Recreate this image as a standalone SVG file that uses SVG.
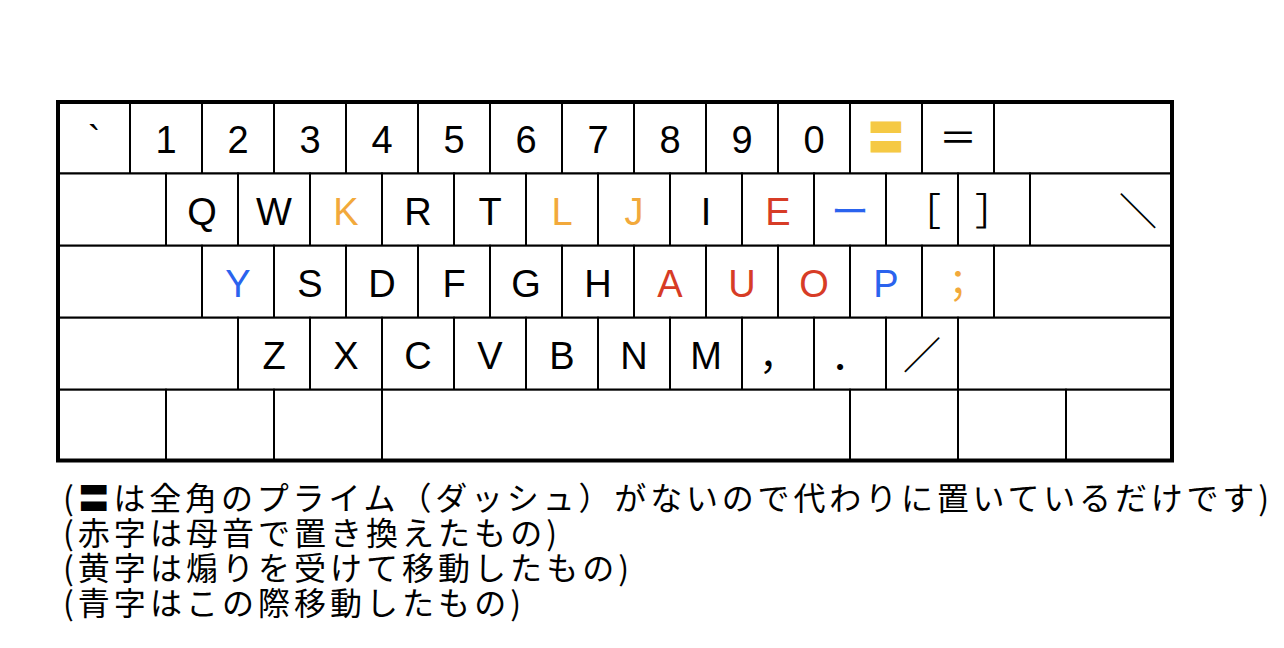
<svg xmlns="http://www.w3.org/2000/svg" width="1284" height="648" viewBox="0 0 1284 648">
<style>
.key{fill:#fff;stroke:#000;stroke-width:2}
.frame{fill:none;stroke:#000;stroke-width:4}
.lbl{font-family:"Liberation Sans","Noto Sans CJK JP",sans-serif;font-size:38px;text-anchor:middle;fill:#000}
.cjk{font-family:"Noto Sans CJK JP",sans-serif;font-size:38px;text-anchor:middle;fill:#000}
.o{fill:#F2A93B}
.r{fill:#D73C26}
.b{fill:#2A63EE}
.y{fill:#F5C944}
.note{font-family:"Noto Sans CJK JP",sans-serif;font-size:32px;fill:#000}
</style>
<rect width="1284" height="648" fill="#fff"/>
<g id="row1">
<g id="k-grave"><rect class="key" x="58" y="102" width="72" height="71.5"/><text class="lbl" x="94" y="153">`</text></g>
<g id="k-1"><rect class="key" x="130" y="102" width="72" height="71.5"/><text class="lbl" x="166" y="153">1</text></g>
<g id="k-2"><rect class="key" x="202" y="102" width="72" height="71.5"/><text class="lbl" x="238" y="153">2</text></g>
<g id="k-3"><rect class="key" x="274" y="102" width="72" height="71.5"/><text class="lbl" x="310" y="153">3</text></g>
<g id="k-4"><rect class="key" x="346" y="102" width="72" height="71.5"/><text class="lbl" x="382" y="153">4</text></g>
<g id="k-5"><rect class="key" x="418" y="102" width="72" height="71.5"/><text class="lbl" x="454" y="153">5</text></g>
<g id="k-6"><rect class="key" x="490" y="102" width="72" height="71.5"/><text class="lbl" x="526" y="153">6</text></g>
<g id="k-7"><rect class="key" x="562" y="102" width="72" height="71.5"/><text class="lbl" x="598" y="153">7</text></g>
<g id="k-8"><rect class="key" x="634" y="102" width="72" height="71.5"/><text class="lbl" x="670" y="153">8</text></g>
<g id="k-9"><rect class="key" x="706" y="102" width="72" height="71.5"/><text class="lbl" x="742" y="153">9</text></g>
<g id="k-0"><rect class="key" x="778" y="102" width="72" height="71.5"/><text class="lbl" x="814" y="153">0</text></g>
<g id="k-geta"><rect class="key" x="850" y="102" width="72" height="71.5"/><text class="cjk y" x="886" y="151" font-size="34">〓</text></g>
<g id="k-equal"><rect class="key" x="922" y="102" width="72" height="71.5"/><text class="cjk" x="958" y="151">＝</text></g>
<g id="k-bs"><rect class="key" x="994" y="102" width="178" height="71.5"/></g>
</g>
<g id="row2">
<g id="k-tab"><rect class="key" x="58" y="173.5" width="108" height="72.2"/></g>
<g id="k-q"><rect class="key" x="166" y="173.5" width="72" height="72.2"/><text class="lbl" x="202" y="224.5">Q</text></g>
<g id="k-w"><rect class="key" x="238" y="173.5" width="72" height="72.2"/><text class="lbl" x="274" y="224.5">W</text></g>
<g id="k-k"><rect class="key" x="310" y="173.5" width="72" height="72.2"/><text class="lbl o" x="346" y="224.5">K</text></g>
<g id="k-r"><rect class="key" x="382" y="173.5" width="72" height="72.2"/><text class="lbl" x="418" y="224.5">R</text></g>
<g id="k-t"><rect class="key" x="454" y="173.5" width="72" height="72.2"/><text class="lbl" x="490" y="224.5">T</text></g>
<g id="k-l"><rect class="key" x="526" y="173.5" width="72" height="72.2"/><text class="lbl o" x="562" y="224.5">L</text></g>
<g id="k-j"><rect class="key" x="598" y="173.5" width="72" height="72.2"/><text class="lbl o" x="634" y="224.5">J</text></g>
<g id="k-i"><rect class="key" x="670" y="173.5" width="72" height="72.2"/><text class="lbl" x="706" y="224.5">I</text></g>
<g id="k-e"><rect class="key" x="742" y="173.5" width="72" height="72.2"/><text class="lbl r" x="778" y="224.5">E</text></g>
<g id="k-dash"><rect class="key" x="814" y="173.5" width="72" height="72.2"/><text class="cjk b" x="850" y="224.5">ー</text></g>
<g id="k-lbr"><rect class="key" x="886" y="173.5" width="72" height="72.2"/><text class="cjk" x="922" y="224.5">［</text></g>
<g id="k-rbr"><rect class="key" x="958" y="173.5" width="72" height="72.2"/><text class="cjk" x="994" y="224.5">］</text></g>
<g id="k-bsl"><rect class="key" x="1030" y="173.5" width="142" height="72.2"/><text class="cjk" x="1138" y="224.5">＼</text></g>
</g>
<g id="row3">
<g id="k-caps"><rect class="key" x="58" y="245.7" width="144" height="72"/></g>
<g id="k-y"><rect class="key" x="202" y="245.7" width="72" height="72"/><text class="lbl b" x="238" y="296.5">Y</text></g>
<g id="k-s"><rect class="key" x="274" y="245.7" width="72" height="72"/><text class="lbl" x="310" y="296.5">S</text></g>
<g id="k-d"><rect class="key" x="346" y="245.7" width="72" height="72"/><text class="lbl" x="382" y="296.5">D</text></g>
<g id="k-f"><rect class="key" x="418" y="245.7" width="72" height="72"/><text class="lbl" x="454" y="296.5">F</text></g>
<g id="k-g"><rect class="key" x="490" y="245.7" width="72" height="72"/><text class="lbl" x="526" y="296.5">G</text></g>
<g id="k-h"><rect class="key" x="562" y="245.7" width="72" height="72"/><text class="lbl" x="598" y="296.5">H</text></g>
<g id="k-a"><rect class="key" x="634" y="245.7" width="72" height="72"/><text class="lbl r" x="670" y="296.5">A</text></g>
<g id="k-u"><rect class="key" x="706" y="245.7" width="72" height="72"/><text class="lbl r" x="742" y="296.5">U</text></g>
<g id="k-o"><rect class="key" x="778" y="245.7" width="72" height="72"/><text class="lbl r" x="814" y="296.5">O</text></g>
<g id="k-p"><rect class="key" x="850" y="245.7" width="72" height="72"/><text class="lbl b" x="886" y="296.5">P</text></g>
<g id="k-semi"><rect class="key" x="922" y="245.7" width="72" height="72"/><text class="cjk o" x="958" y="296.5">；</text></g>
<g id="k-enter"><rect class="key" x="994" y="245.7" width="178" height="72"/></g>
</g>
<g id="row4">
<g id="k-lshift"><rect class="key" x="58" y="317.7" width="180" height="72"/></g>
<g id="k-z"><rect class="key" x="238" y="317.7" width="72" height="72"/><text class="lbl" x="274" y="368.5">Z</text></g>
<g id="k-x"><rect class="key" x="310" y="317.7" width="72" height="72"/><text class="lbl" x="346" y="368.5">X</text></g>
<g id="k-c"><rect class="key" x="382" y="317.7" width="72" height="72"/><text class="lbl" x="418" y="368.5">C</text></g>
<g id="k-v"><rect class="key" x="454" y="317.7" width="72" height="72"/><text class="lbl" x="490" y="368.5">V</text></g>
<g id="k-b"><rect class="key" x="526" y="317.7" width="72" height="72"/><text class="lbl" x="562" y="368.5">B</text></g>
<g id="k-n"><rect class="key" x="598" y="317.7" width="72" height="72"/><text class="lbl" x="634" y="368.5">N</text></g>
<g id="k-m"><rect class="key" x="670" y="317.7" width="72" height="72"/><text class="lbl" x="706" y="368.5">M</text></g>
<g id="k-comma"><rect class="key" x="742" y="317.7" width="72" height="72"/><text class="cjk" x="778" y="368.5">，</text></g>
<g id="k-period"><rect class="key" x="814" y="317.7" width="72" height="72"/><text class="cjk" x="850" y="368.5">．</text></g>
<g id="k-slash"><rect class="key" x="886" y="317.7" width="72" height="72"/><text class="cjk" x="922" y="368.5">／</text></g>
<g id="k-rshift"><rect class="key" x="958" y="317.7" width="214" height="72"/></g>
</g>
<g id="row5">
<g id="k-m1"><rect class="key" x="58" y="389.7" width="108" height="70.8"/></g>
<g id="k-m2"><rect class="key" x="166" y="389.7" width="108" height="70.8"/></g>
<g id="k-m3"><rect class="key" x="274" y="389.7" width="108" height="70.8"/></g>
<g id="k-space"><rect class="key" x="382" y="389.7" width="468" height="70.8"/></g>
<g id="k-m4"><rect class="key" x="850" y="389.7" width="108" height="70.8"/></g>
<g id="k-m5"><rect class="key" x="958" y="389.7" width="108" height="70.8"/></g>
<g id="k-m6"><rect class="key" x="1066" y="389.7" width="106" height="70.8"/></g>
</g>
<g id="frame"><rect class="frame" x="58" y="102" width="1114" height="358.5"/></g>
<g id="connectors"></g>
<g id="notes">
<text class="note" x="63" y="510" textLength="1206" lengthAdjust="spacing">(〓は全角のプライム（ダッシュ）がないので代わりに置いているだけです)</text>
<text class="note" x="63" y="545" textLength="494" lengthAdjust="spacing">(赤字は母音で置き換えたもの)</text>
<text class="note" x="63" y="580" textLength="566" lengthAdjust="spacing">(黄字は煽りを受けて移動したもの)</text>
<text class="note" x="63" y="615" textLength="458" lengthAdjust="spacing">(青字はこの際移動したもの)</text>
</g>
</svg>
